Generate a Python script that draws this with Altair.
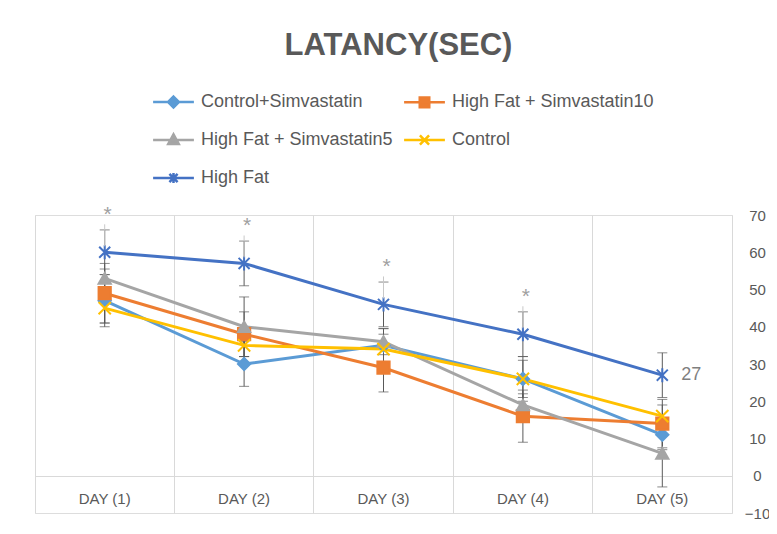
import altair as alt
import pandas as pd

# ---------------- data ----------------
days = ["DAY (1)", "DAY (2)", "DAY (3)", "DAY (4)", "DAY (5)"]
series_names = ["Control+Simvastatin", "High Fat + Simvastatin10",
                "High Fat + Simvastatin5", "Control", "High Fat"]

control_simvastatin = [47, 30, 35, 26, 11]
high_fat_simvastatin10 = [49, 38, 29, 16, 14]
high_fat_simvastatin5 = [53, 40, 36, 19, 6]
control = [45, 35, 34, 26, 16]
high_fat = [60, 57, 46, 38, 27]

err_control_simvastatin = [7, 6, 4.5, 6, 4]
err_high_fat_simvastatin10 = [8, 6, 6.5, 7, 6.5]
err_high_fat_simvastatin5 = [2.5, 8, 3.5, 3, 9]
err_control = [4, 3, 4, 5, 3]
err_high_fat = [6, 6, 6, 6, 6]

high_fat_labels = ["*", "*", "*", "*", "27"]

y_ticks = [-10, 0, 10, 20, 30, 40, 50, 60, 70]

colors = ["#5B9BD5", "#ED7D31", "#A5A5A5", "#FFC000", "#4472C4"]

# ---------------- tables ----------------
values_by_series = [control_simvastatin, high_fat_simvastatin10,
                    high_fat_simvastatin5, control, high_fat]
errors_by_series = [err_control_simvastatin, err_high_fat_simvastatin10,
                    err_high_fat_simvastatin5, err_control, err_high_fat]
rows = []
for s, vals, errs in zip(series_names, values_by_series, errors_by_series):
    for d, v, e in zip(days, vals, errs):
        rows.append({"series": s, "day": d, "value": v, "err": e,
                     "lo": v - e, "hi": v + e})
df = pd.DataFrame(rows)

hf_df = pd.DataFrame({"day": days, "value": high_fat, "label": high_fat_labels})

# ---------------- scales / axes ----------------
FONT = "Liberation Sans"
TXT = "#595959"
GRID = "#d9d9d9"

xscale = alt.Scale(type="band", domain=days, paddingInner=0, paddingOuter=0)
yscale = alt.Scale(domain=[-10, 70], nice=False, zero=False)
yaxis = alt.Axis(orient="right", values=y_ticks, grid=False, ticks=False, tickSize=0,
                 domain=True, domainColor=GRID, domainWidth=1,
                 labelAlign="center", labelPadding=25, labelFont=FONT,
                 labelFontSize=15, labelColor=TXT, title=None)

x_plain = alt.X("day:N", sort=days, scale=xscale, axis=None)
x_grid = alt.X("day:N", sort=days, scale=xscale,
               axis=alt.Axis(orient="bottom", title=None, grid=True, gridColor=GRID,
                             gridWidth=1, bandPosition=0, labels=False, ticks=False,
                             domain=False))
x_labels = alt.X("day:N", sort=days, scale=xscale,
                 axis=alt.Axis(orient="bottom", title=None, grid=False, ticks=False,
                               tickSize=0, domain=True, domainColor=GRID, domainWidth=1,
                               offset=-37, labelFont=FONT, labelFontSize=15,
                               labelColor=TXT, labelPadding=15, labelAngle=0))


def yq(field):
    return alt.Y(f"{field}:Q", scale=yscale, axis=yaxis, title=None)


cscale = alt.Scale(domain=series_names, range=colors)

plot_shapes = [
    "diamond",
    "square",
    "triangle-up",
    "M-1,-1L1,1M-1,1L1,-1",
    "M-0.9,-0.9L0.9,0.9M-0.9,0.9L0.9,-0.9M0,-1.15L0,1.15",
]
legend_shapes = [
    "M-1.2,0L1.2,0M0,-0.32L0.32,0L0,0.32L-0.32,0Z",
    "M-1.2,0L1.2,0M-0.28,-0.28L0.28,-0.28L0.28,0.28L-0.28,0.28Z",
    "M-1.2,0L1.2,0M0,-0.33L0.31,0.24L-0.31,0.24Z",
    "M-1.2,0L1.2,0M-0.27,-0.27L0.27,0.27M-0.27,0.27L0.27,-0.27",
    "M-1.2,0L1.2,0M-0.24,-0.24L0.24,0.24M-0.24,0.24L0.24,-0.24M0,-0.3L0,0.3",
]

base = alt.Chart(df)

# error bars (carry the vertical grid axis)
err_rule = base.mark_rule(color=TXT, strokeWidth=1).encode(
    x=x_grid, y=yq("lo"), y2="hi:Q")
cap_lo = base.mark_tick(color=TXT, thickness=1, size=10).encode(x=x_plain, y=yq("lo"))
cap_hi = base.mark_tick(color=TXT, thickness=1, size=10).encode(x=x_plain, y=yq("hi"))

# lines (carry category labels axis)
lines = base.mark_line(strokeWidth=3).encode(
    x=x_labels, y=yq("value"),
    color=alt.Color("series:N", scale=cscale, legend=None))

points = base.mark_point(size=150, filled=True, strokeWidth=2, opacity=1).encode(
    x=x_plain, y=yq("value"),
    fill=alt.Fill("series:N", scale=cscale, legend=None),
    stroke=alt.Stroke("series:N", scale=cscale, legend=None),
    shape=alt.Shape("series:N", scale=alt.Scale(domain=series_names, range=plot_shapes),
                    legend=None))

leg = alt.Legend(title=None, orient="none", legendX=120, legendY=-131.5, columns=2,
                 direction="horizontal", columnPadding=6, rowPadding=9,
                 labelFont=FONT, labelFontSize=18,
                 labelColor=TXT, symbolSize=1156, symbolStrokeWidth=2.5,
                 labelOffset=9, padding=0, symbolOpacity=1, labelLimit=400)

legend_layer = base.transform_filter("datum.value < -1000").mark_point(
    size=1156, filled=True, strokeWidth=2.5).encode(
    x=x_plain, y=yq("value"),
    fill=alt.Fill("series:N", scale=alt.Scale(domain=series_names, range=colors), legend=leg),
    stroke=alt.Stroke("series:N", scale=alt.Scale(domain=series_names, range=colors), legend=leg),
    shape=alt.Shape("series:N", scale=alt.Scale(domain=series_names, range=legend_shapes),
                    legend=leg))

hf = alt.Chart(hf_df)
stars = hf.transform_filter("datum.label == '*'").transform_calculate(
    star_y="datum.value + 11").mark_text(
    color="#a0a0a0", fontSize=21, baseline="middle", dx=3, dy=4, font=FONT).encode(
    x=x_plain, y=yq("star_y"), text="label:N")
leaders = hf.transform_filter("datum.label == '*'").transform_calculate(
    lead_lo="datum.value + 1.6", lead_hi="datum.value + 7.5").mark_rule(
    color="#c8c8c8", strokeWidth=1).encode(
    x=x_plain, y=yq("lead_lo"), y2="lead_hi:Q")
last_label = hf.transform_filter("datum.label != '*'").mark_text(
    color="#7f7f7f", fontSize=18, align="left", baseline="middle", dx=19, font=FONT).encode(
    x=x_plain, y=yq("value"), text="label:N")

chart = alt.layer(
    err_rule, cap_lo, cap_hi, lines, points, legend_layer, leaders, stars, last_label
).resolve_scale(
    color="independent", fill="independent", stroke="independent", shape="independent"
).resolve_axis(
    x="independent"
).properties(
    width=697, height=298,
    autosize=alt.AutoSizeParams(type="none"),
    padding={"left": 27, "top": 207, "right": 37, "bottom": 8},
    title=alt.TitleParams("LATANCY(SEC)", fontSize=31, fontWeight="bold", color=TXT,
                          font=FONT, anchor="middle", frame="group",
                          baseline="alphabetic", offset=-2, dx=15),
).configure_view(stroke=None).configure(font=FONT, background="white")

chart.save("out.html", embed_options={"renderer": "svg", "actions": False})
